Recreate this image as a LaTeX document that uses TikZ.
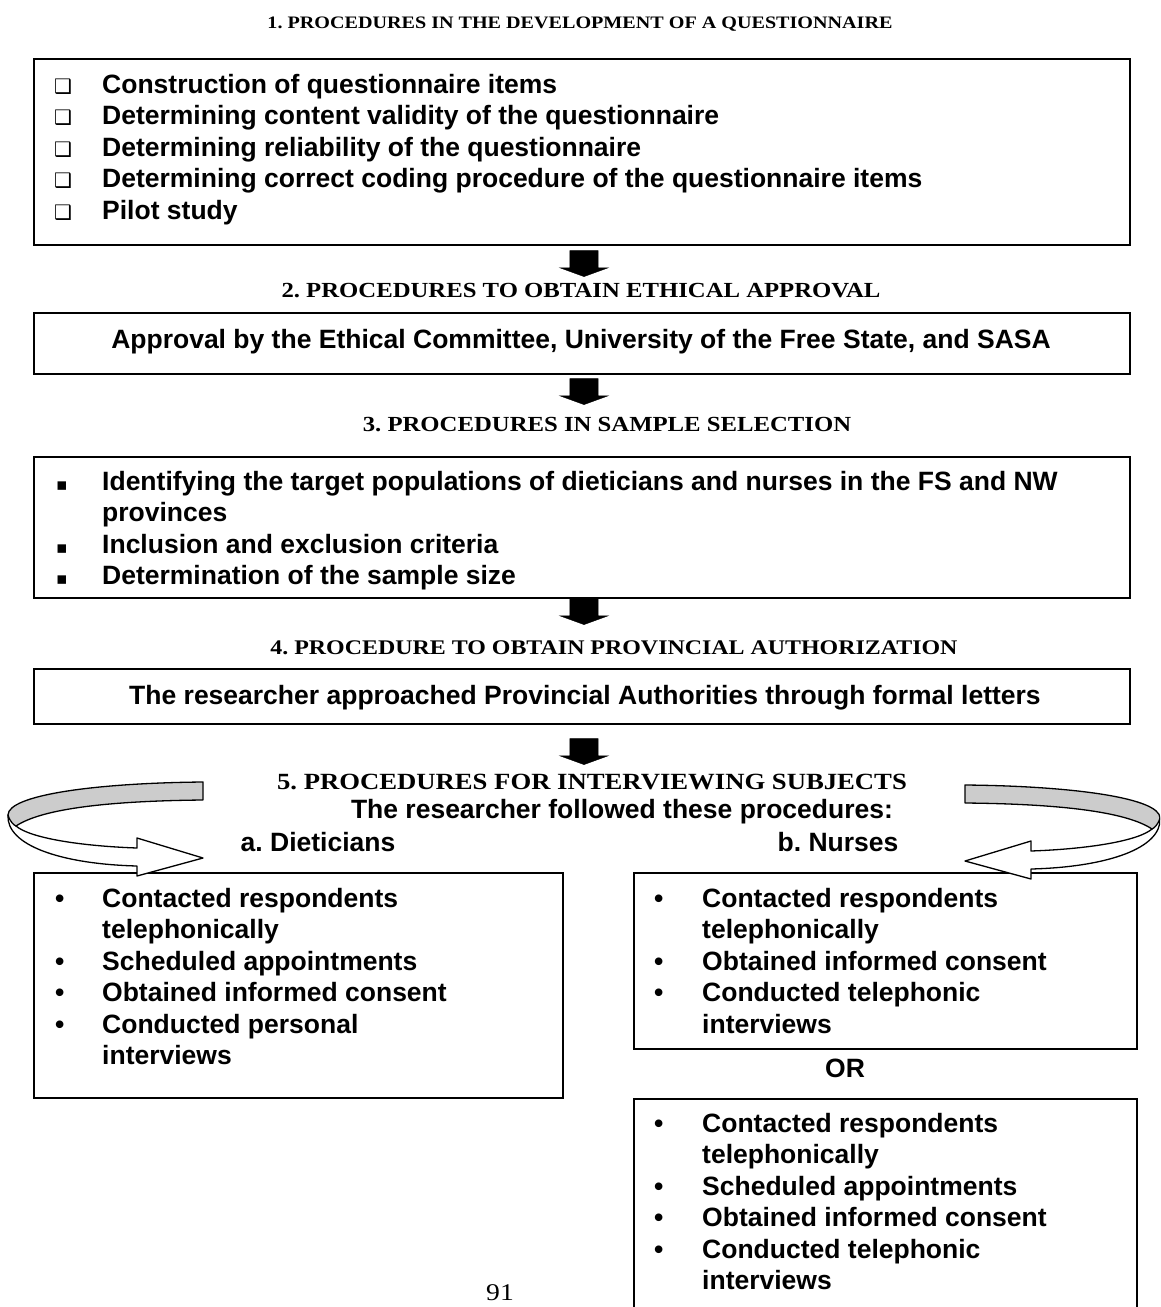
\documentclass[tikz,border=0pt]{standalone}
\usepackage{fontspec}
\setmainfont{Liberation Sans}
\newfontfamily\headfont[FakeStretch=1.15]{Liberation Serif}
\newfontfamily\symfont{DejaVu Sans}
\usetikzlibrary{shapes.arrows}
\usetikzlibrary{positioning}
\newcommand{\sqbul}{{\symfont\fontsize{20}{20}\selectfont ❑}}
\newcommand{\blkbul}{{\symfont\fontsize{17}{17}\selectfont ▪}}
\frenchspacing
\tikzset{
    box/.style = {rectangle, draw=black, line width=2.2pt, anchor=north west, inner sep=0pt},
    head/.style = {anchor=base, inner sep=0pt, font=\headfont\bfseries\fontsize{#1}{#1}\selectfont},
    itemtext/.style = {anchor=north west, inner sep=0pt, align=left, font=\bfseries\fontsize{26.5}{31.5}\selectfont},
    linetext/.style = {inner sep=0pt, font=\bfseries\fontsize{26.5}{31.5}\selectfont},
    downarrow/.style = {single arrow, draw=black, fill=black, rotate=-90, inner xsep=0pt, inner ysep=14pt, minimum height=26pt, single arrow head extend=10pt, single arrow tip angle=140},
    ribtop/.style = {draw=black, line width=1.3pt, fill=gray!40, line join=round},
    ribbot/.style = {draw=black, line width=1.3pt, fill=white, line join=round}
}

\begin{document}
\begin{tikzpicture}[x=1pt, y=-1pt]
\clip (0,0) rectangle (1160,1307);
%
% step 1
\node[head=17.5] at (580,28) (h1) {1. PROCEDURES IN THE DEVELOPMENT OF A QUESTIONNAIRE};
\node[box, minimum width=1096pt, minimum height=186pt] at (33,58) (bx1) {};
\node[itemtext] at (54,71) (t1) {\begin{tabular}{@{}p{48pt}@{}l@{}}
\sqbul & Construction of questionnaire items\\
\sqbul & Determining content validity of the questionnaire\\
\sqbul & Determining reliability of the questionnaire\\
\sqbul & Determining correct coding procedure of the questionnaire items\\
\sqbul & Pilot study
\end{tabular}};
\node[downarrow] at (584,261) (a1) {};
%
% step 2
\node[head=21.5] at (581,297) (h2) {2. PROCEDURES TO OBTAIN ETHICAL APPROVAL};
\node[box, minimum width=1096pt, minimum height=61pt] at (33,312) (bx2) {};
\node[linetext] at (581,342) (t2) {Approval by the Ethical Committee, University of the Free State, and SASA};
\node[downarrow] at (584,389) (a2) {};
%
% step 3
\node[head=21.5] at (607,431) (h3) {3. PROCEDURES IN SAMPLE SELECTION};
\node[box, minimum width=1096pt, minimum height=141pt] at (33,456) (bx3) {};
\node[itemtext] at (56,468) (t3) {\begin{tabular}{@{}p{46pt}@{}l@{}}
\blkbul & Identifying the target populations of dieticians and nurses in the FS and NW\\
 & provinces\\
\blkbul & Inclusion and exclusion criteria\\
\blkbul & Determination of the sample size
\end{tabular}};
\node[downarrow] at (584,609) (a3) {};
%
% step 4
\node[head=20.8] at (614,654) (h4) {4. PROCEDURE TO OBTAIN PROVINCIAL AUTHORIZATION};
\node[box, minimum width=1096pt, minimum height=55pt] at (33,668) (bx4) {};
\node[linetext] at (585,698) (t4) {The researcher approached Provincial Authorities through formal letters};
\node[downarrow] at (584,749) (a4) {};
%
% step 5
\node[head=23.2] at (592,789) (h5) {5. PROCEDURES FOR INTERVIEWING SUBJECTS};
\node[linetext] at (622,812) (t5) {The researcher followed these procedures:};
\node[linetext, anchor=base] at (318,851) (sa) {a. Dieticians};
\node[linetext, anchor=base] at (838,851) (sb) {b. Nurses};
%
\node[box, minimum width=529pt, minimum height=225pt] at (33,872) (bxa) {};
\node[itemtext] at (55,885) (ta) {\begin{tabular}{@{}p{47pt}@{}l@{}}
• & Contacted respondents\\
 & telephonically\\
• & Scheduled appointments\\
• & Obtained informed consent\\
• & Conducted personal\\
 & interviews
\end{tabular}};
%
\node[box, minimum width=503pt, minimum height=176pt] at (633,872) (bxb1) {};
\node[itemtext] at (654,885) (tb1) {\begin{tabular}{@{}p{48pt}@{}l@{}}
• & Contacted respondents\\
 & telephonically\\
• & Obtained informed consent\\
• & Conducted telephonic\\
 & interviews
\end{tabular}};
\node[linetext, anchor=base] at (845,1077) (or) {OR};
\node[box, minimum width=503pt, minimum height=240pt] at (633,1098) (bxb2) {};
\node[itemtext] at (654,1110) (tb2) {\begin{tabular}{@{}p{48pt}@{}l@{}}
• & Contacted respondents\\
 & telephonically\\
• & Scheduled appointments\\
• & Obtained informed consent\\
• & Conducted telephonic\\
 & interviews
\end{tabular}};
%
\node[anchor=base, inner sep=0pt, font=\headfont\fontsize{24}{28}\selectfont] at (500,1300) (pg) {91};
%
% curved arrows
\path[ribbot] (8,815) .. controls (6,845) and (60,864) .. (137,866) -- (137,876) -- (203,858) -- (137,838) -- (137,848) .. controls (80,846) and (30,838) .. (16,826) -- cycle;
\path[ribtop] (203,782) .. controls (95,783) and (8,795) .. (8,815) .. controls (10,822) and (14,825) .. (16,826) .. controls (40,810) and (100,801) .. (203,800) -- cycle;
\begin{scope}[shift={(1168,3)}, xscale=-1]
\path[ribbot] (8,815) .. controls (6,845) and (60,864) .. (137,866) -- (137,876) -- (203,858) -- (137,838) -- (137,848) .. controls (80,846) and (30,838) .. (16,826) -- cycle;
\path[ribtop] (203,782) .. controls (95,783) and (8,795) .. (8,815) .. controls (10,822) and (14,825) .. (16,826) .. controls (40,810) and (100,801) .. (203,800) -- cycle;
\end{scope}

\end{tikzpicture}
\end{document}
